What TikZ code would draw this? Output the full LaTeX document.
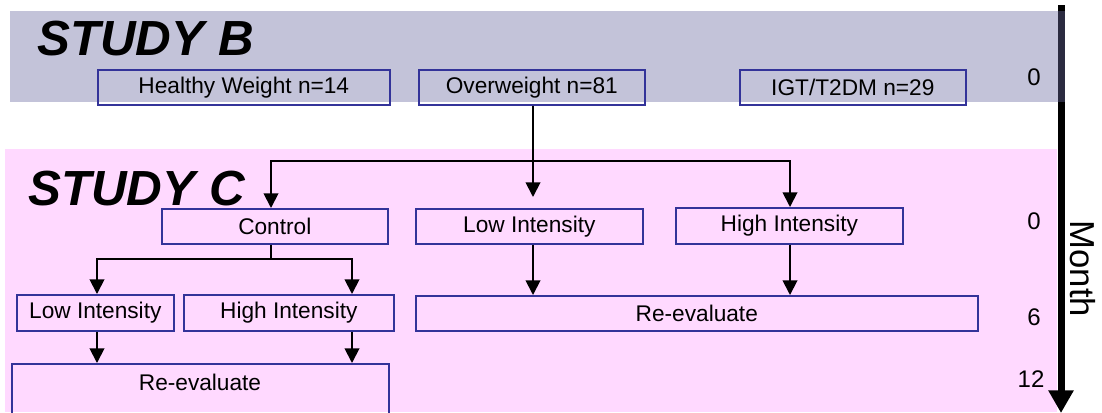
\documentclass[tikz,border=0pt]{standalone}
\usepackage{fontspec}
\setmainfont{Liberation Sans}
\usetikzlibrary{arrows.meta,calc}
\definecolor{bandgray}{RGB}{195,195,217}
\definecolor{bandpink}{RGB}{255,217,255}
\definecolor{boxblue}{RGB}{51,51,153}
\definecolor{bandnavy}{RGB}{43,43,64}
% #1 name, #2 x1, #3 y1, #4 x2, #5 y2, #6 text
\newcommand\bxat[6]{\node[bx, minimum width={(#4-#2)*0.75pt}, minimum height={(#5-#3)*0.75pt}, anchor=north west] (#1) at (#2,#3) {#6};}
\begin{document}
\begin{tikzpicture}[x=0.75pt,y=-0.75pt,
  bx/.style={draw=boxblue, line width=1.2pt, inner sep=0pt, font=\fontsize{17}{20}\selectfont},
  lbl/.style={inner sep=0pt, font=\fontsize{17}{20}\selectfont},
  tck/.style={inner sep=0pt, font=\fontsize{18}{21}\selectfont},
  conn/.style={line width=1.4pt, -{Triangle[width=11pt,length=11pt]}},
  plain/.style={line width=1.4pt},
  study/.style={font=\fontsize{37}{44}\selectfont\bfseries\itshape, anchor=base west, inner sep=0pt}]
\useasboundingbox (0,0) rectangle (1102,412);
\clip (0,0) rectangle (1102,412);
% bands
\fill[bandgray] (10,11) rectangle (1063,102);
\fill[bandpink] (5,149) rectangle (1057,412);
% month axis
\coordinate (mtop) at (1061,5);
\coordinate (mbot) at (1061,413);
\draw[line width=5.25pt, -{Triangle[width=18pt,length=17pt]}] (mtop) -- (mbot);
\fill[bandnavy] (1057.5,11) rectangle (1064.5,102);
% titles
\node[study] (studyB) at (37,55) {STUDY B};
\node[study] (studyC) at (28,205) {STUDY C};
% study B boxes
\bxat{hw}{97}{69}{389}{104}{Healthy Weight n=14}
\bxat{ow}{418}{69}{644}{104}{Overweight n=81}
\bxat{igt}{739}{69}{965}{104}{IGT/T2DM n=29}
% study C boxes
\bxat{ctrl}{161}{208}{387}{243}{Control}
\bxat{lo0}{415}{208}{642}{243}{Low Intensity}
\bxat{hi0}{675}{207}{902}{243}{High Intensity}
\bxat{lo6}{16}{294}{173}{330}{Low Intensity}
\bxat{hi6}{183}{294}{393}{330}{High Intensity}
\bxat{re6}{415}{295}{977}{330}{Re-evaluate}
\bxat{re12}{11}{363}{388}{440}{}
\node[lbl] (re12t) at (200,382) {Re-evaluate};
% month labels
\node[tck] (m0b) at (1034,77) {0};
\node[tck] (m0c) at (1034,221) {0};
\node[tck] (m6) at (1034,317) {6};
\node[tck] (m12) at (1031,379) {12};
\node[rotate=-90, inner sep=0pt, font=\fontsize{26}{30}\selectfont] (month) at (1083,269) {Month};
% connectors
\coordinate (jB) at (533,161);
\draw[plain] (ow.south -| jB) -- (jB);
\draw[conn, shorten >=8.25pt] (jB) -- (lo0.north -| jB);
\draw[conn] (jB) -| (ctrl.north -| 271,0);
\draw[conn] (jB) -| (hi0.north -| 790,0);
\coordinate (jC) at (271,259);
\draw[plain] (ctrl.south -| jC) -- (jC);
\draw[conn] (jC) -| (lo6.north -| 97,0);
\draw[conn] (jC) -| (hi6.north -| 352,0);
\draw[conn] (lo0.south -| 533,0) -- (re6.north -| 533,0);
\draw[conn] (hi0.south -| 790,0) -- (re6.north -| 790,0);
\draw[conn] (lo6.south -| 97,0) -- (re12.north -| 97,0);
\draw[conn] (hi6.south -| 352,0) -- (re12.north -| 352,0);
\end{tikzpicture}
\end{document}
